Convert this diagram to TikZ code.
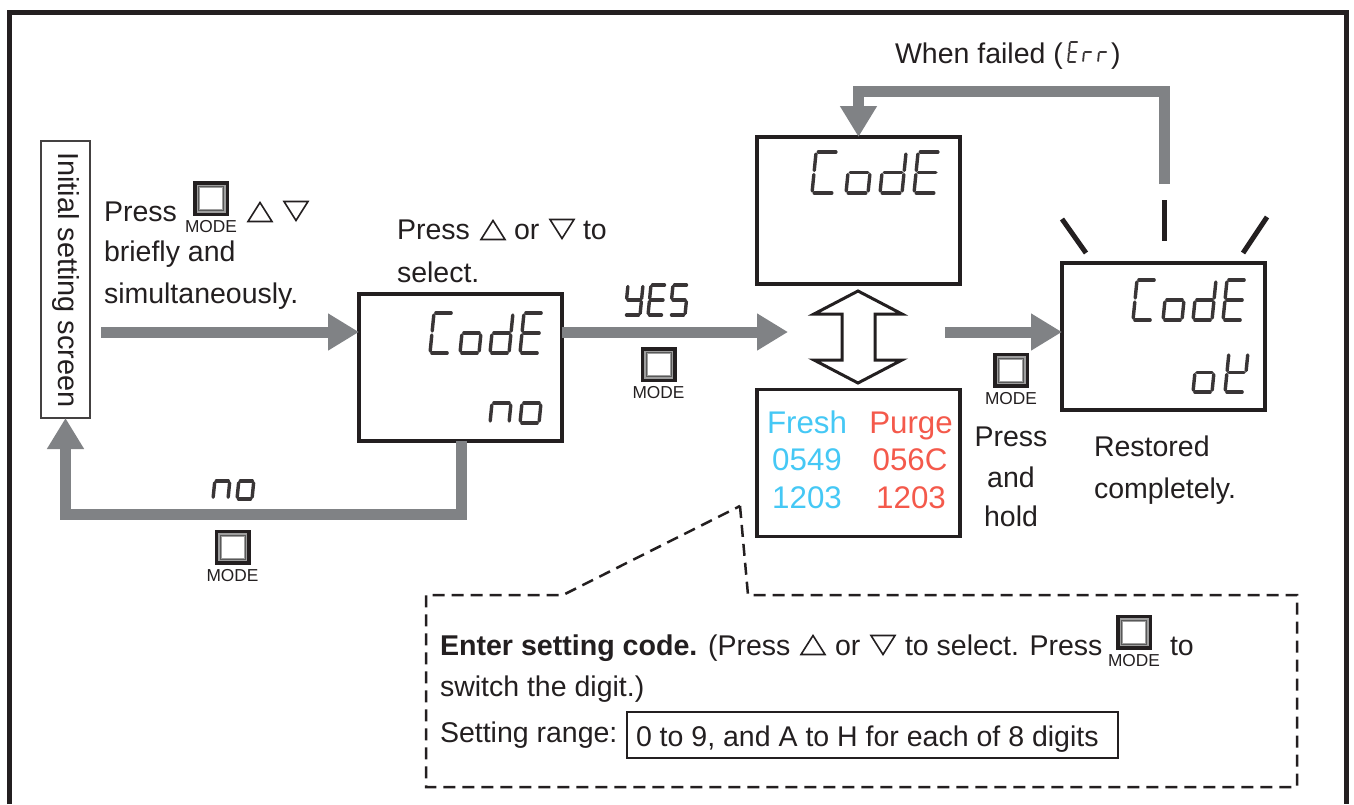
\documentclass[tikz,border=0pt]{standalone}
\usepackage{fontspec}
\setmainfont{Liberation Sans}
\usetikzlibrary{arrows.meta}
\definecolor{ink}{HTML}{231F20}
\definecolor{flowgray}{HTML}{808285}
\definecolor{cyantxt}{HTML}{45C8F5}
\definecolor{redtxt}{HTML}{F4594B}
\newcommand{\fs}[1]{\fontsize{#1}{#1}\selectfont}
\newcommand{\segA}{\draw[segline] (2,-40)--(18,-40);}
\newcommand{\segB}{\draw[segline] (20,-38)--(20,-22);}
\newcommand{\segC}{\draw[segline] (20,-18)--(20,-2);}
\newcommand{\segD}{\draw[segline] (2,0)--(18,0);}
\newcommand{\segE}{\draw[segline] (0,-18)--(0,-2);}
\newcommand{\segF}{\draw[segline] (0,-38)--(0,-22);}
\newcommand{\segG}{\draw[segline] (2,-20)--(18,-20);}
% left x, bottom y, width, height, segments
\newcommand{\segchar}[5]{\begin{scope}[shift={(#1,#2)},xslant=0.1,xscale=#3/20,yscale=#4/40]
\foreach \sn in {#5} {\csname seg\sn\endcsname}
\end{scope}}
\tikzset{
  x=1pt,y=-1pt,
  every node/.style={inner sep=0pt,outer sep=0pt,text=ink},
  txt/.style={anchor=base west,font=\fs{28.5}},
  ctr/.style={anchor=base,font=\fs{28.5}},
  big/.style={anchor=base,font=\fs{31.3}},
  lcd/.style={draw=ink,line width=3.2pt,fill=white,minimum width=203pt,minimum height=147pt},
  flow/.style={draw=flowgray,line width=11pt,-{Triangle[length=31pt,width=35pt]}},
  segline/.style={draw=ink!90,line width=3.4pt,line cap=round},
  thinseg/.style={},
  rayline/.style={draw=ink,line width=5pt},
  tri/.style={draw=ink,line width=1.6pt,line join=miter},
  segtxt/.style={anchor=base west,text opacity=0},
  pics/triup/.style={code={\draw[tri] (-12,9.5)--(12,9.5)--(0,-9.5)--cycle;}},
  pics/tridn/.style={code={\draw[tri] (-12,-9.5)--(12,-9.5)--(0,9.5)--cycle;}},
  pics/modebtn/.style={code={
    \fill[ink] (-18,-17.5) rectangle (18,17.5);
    \fill[black!38] (-14.5,-14) rectangle (14.5,14);
    \draw[black!65,line width=1pt] (-12.5,-12) rectangle (12.5,12);
    \fill[white] (-11,-10.5) rectangle (11,10.5);
    \node[font=\fs{17.3}] (lbl) at (0,28.5) {MODE};
  }},
}
\begin{document}
\begin{tikzpicture}
\useasboundingbox (0,0) rectangle (1354,804);
\fill[white] (0,0) rectangle (1354,804);
\draw[ink,line width=5pt] (9,804)--(9,12)--(1346,12)--(1346,804);

% boxes
\node[draw=ink!85,line width=2pt,minimum width=49pt,minimum height=277pt,fill=white] (init) at (65.5,279.5) {};
\node[rotate=-90,font=\fs{28.9}] (inittxt) at (65.5,280) {Initial setting screen};
\node[lcd] (box1) at (460.5,367.5) {};
\node[lcd] (box2) at (858.5,210.5) {};
\node[lcd] (box3) at (858.5,463) {};
\node[lcd] (box4) at (1163.5,336.5) {};

% connectors
\coordinate (s1) at (101,332);
\draw[flow] (s1) -- (s1 -| box1.west);
\coordinate (s2) at (box1.east |- s1);
\coordinate (e2) at (788,332);
\draw[flow] (s2) -- (e2);
\coordinate (s3) at (945,332);
\draw[flow] (s3) -- (s3 -| box4.west);
\coordinate (fr) at (1164,184);
\coordinate (ft) at (1164,91);
\draw[flow] (fr) -- (ft) -- (ft -| box2.north) -- (box2.north);
\coordinate (lb) at (461,514);
\draw[flow] (lb |- box1.south) -- (lb) -- (lb -| init.south) -- (init.south);

% double arrow
\coordinate (dt) at (858,291);
\coordinate (db) at (858,383);
\draw[draw=ink,line width=3pt,fill=white,line join=miter] (dt) -- (902,314) -- (875,314) -- (875,360) -- (902,360) -- (db) -- (814,360) -- (842,360) -- (842,314) -- (814,314) -- cycle;

% rays
\coordinate (r1a) at (1062,219); \coordinate (r1b) at (1086,253);
\coordinate (r2a) at (1164,200); \coordinate (r2b) at (1164,241);
\coordinate (r3a) at (1267,217); \coordinate (r3b) at (1243,253);
\draw[rayline] (r1a)--(r1b);
\draw[rayline] (r2a)--(r2b);
\draw[rayline] (r3a)--(r3b);

% display glyphs, box 1
\node[segtxt,font=\fs{40}] (t1) at (430,353) {CodE};
\segchar{430}{353}{19}{40}{A,D,E,F}
\segchar{460}{353}{19}{40}{C,D,E,G}
\segchar{490}{353}{19}{40}{B,C,D,E,G}
\segchar{520}{353}{19}{40}{A,D,E,F,G}
\node[segtxt,font=\fs{36}] (t2) at (490,423) {no};
\segchar{490}{423}{19}{40}{C,E,G}
\segchar{520}{423}{19}{40}{C,D,E,G}
% box 2
\node[segtxt,font=\fs{44}] (t3) at (812,193) {CodE};
\segchar{812}{193}{22}{41}{A,D,E,F}
\segchar{846}{193}{22}{41}{C,D,E,G}
\segchar{880}{193}{22}{41}{B,C,D,E,G}
\segchar{914}{193}{22}{41}{A,D,E,F,G}
% box 4
\node[segtxt,font=\fs{40}] (t4) at (1133,320) {CodE};
\segchar{1133}{320}{19}{40}{A,D,E,F}
\segchar{1163}{320}{19}{40}{C,D,E,G}
\segchar{1193}{320}{19}{40}{B,C,D,E,G}
\segchar{1223}{320}{19}{40}{A,D,E,F,G}
\node[segtxt,font=\fs{36}] (t5) at (1193,392) {oK};
\segchar{1193}{392}{19}{39}{C,D,E,G}
\segchar{1225}{392}{19}{39}{B,D,E,F,G}
% YES
\node[segtxt,font=\fs{28}] (t6) at (625,315) {YES};
\segchar{625}{315}{15}{30}{B,C,D,F,G}
\segchar{648}{315}{15}{30}{A,D,E,F,G}
\segchar{670}{315}{15}{30}{A,C,D,F,G}
% no, lower loop
\node[segtxt,font=\fs{28}] (t7) at (213,499) {no};
\segchar{213}{499}{15}{36}{C,E,G}
\segchar{237}{499}{15}{36}{C,D,E,G}

% labels
\node[txt] (a1) at (104,221) {Press};
\pic (m1) at (211,198.5) {modebtn};
\pic (u1) at (260,212) {triup};
\pic (d1) at (296,211) {tridn};
\node[txt] (a2) at (104,261) {briefly and};
\node[txt] (a3) at (104,303) {simultaneously.};

\node[txt] (b1) at (397,239) {Press};
\pic (u2) at (493,230) {triup};
\node[txt] (b2) at (514,239) {or};
\pic (d2) at (562,229) {tridn};
\node[txt] (b3) at (583,239) {to};
\node[txt] (b4) at (397,282) {select.};

\pic (m2) at (658.5,364.5) {modebtn};
\pic (m3) at (232.5,547) {modebtn};
\pic (m4) at (1011,370) {modebtn};

\node[txt] (w1) at (895,63) {When failed (};
\begin{scope}[segline/.append style={line width=1.8pt}]
\segchar{1068}{62}{8}{20}{A,D,E,F,G}
\segchar{1083}{62}{8}{20}{E,G}
\segchar{1098}{62}{8}{20}{E,G}
\end{scope}
\node[segtxt,font=\fs{20}] (w2) at (1068,62) {Err};
\node[txt] (w3) at (1111,63) {)};

\node[big,text=cyantxt] (f1) at (807,433) {Fresh};
\node[big,text=cyantxt] (f2) at (807,470) {0549};
\node[big,text=cyantxt] (f3) at (807,508) {1203};
\node[big,text=redtxt] (p1) at (911,433) {Purge};
\node[big,text=redtxt] (p2) at (910,470) {056C};
\node[big,text=redtxt] (p3) at (911,508) {1203};

\node[ctr] (h1) at (1011,446) {Press};
\node[ctr] (h2) at (1011,487) {and};
\node[ctr] (h3) at (1011,526) {hold};
\node[txt] (c1) at (1094,456) {Restored};
\node[txt] (c2) at (1094,498) {completely.};

% callout
\coordinate (k0) at (740,506);
\coordinate (k1) at (748,595);
\coordinate (k2) at (1297,595);
\coordinate (k3) at (1297,787);
\coordinate (k4) at (426,787);
\coordinate (k5) at (426,595);
\coordinate (k6) at (563,595);
\draw[ink,line width=2.5pt,dash pattern=on 12pt off 7pt] (k0)--(k1)--(k2)--(k3)--(k4)--(k5)--(k6)--cycle;

\node[txt,font=\fs{28.6}\bfseries] (e1) at (440,655) {Enter setting code.};
\node[txt] (e2t) at (708,655) {(Press};
\pic (u3) at (813,645) {triup};
\node[txt] (e3) at (835,655) {or};
\pic (d3) at (883,645) {tridn};
\node[txt] (e4) at (905,655) {to select. Press};
\pic (m5) at (1134,632) {modebtn};
\node[txt] (e5) at (1170,655) {to};
\node[txt] (e6) at (440,696) {switch the digit.)};
\node[txt] (e7) at (440,742) {Setting range:};
\node[draw=ink,line width=2.5pt,minimum width=491pt,minimum height=46pt] (rng) at (872.5,735) {};
\node[txt] (e8) at (636,746) {0 to 9, and A to H for each of 8 digits};
\end{tikzpicture}
\end{document}
